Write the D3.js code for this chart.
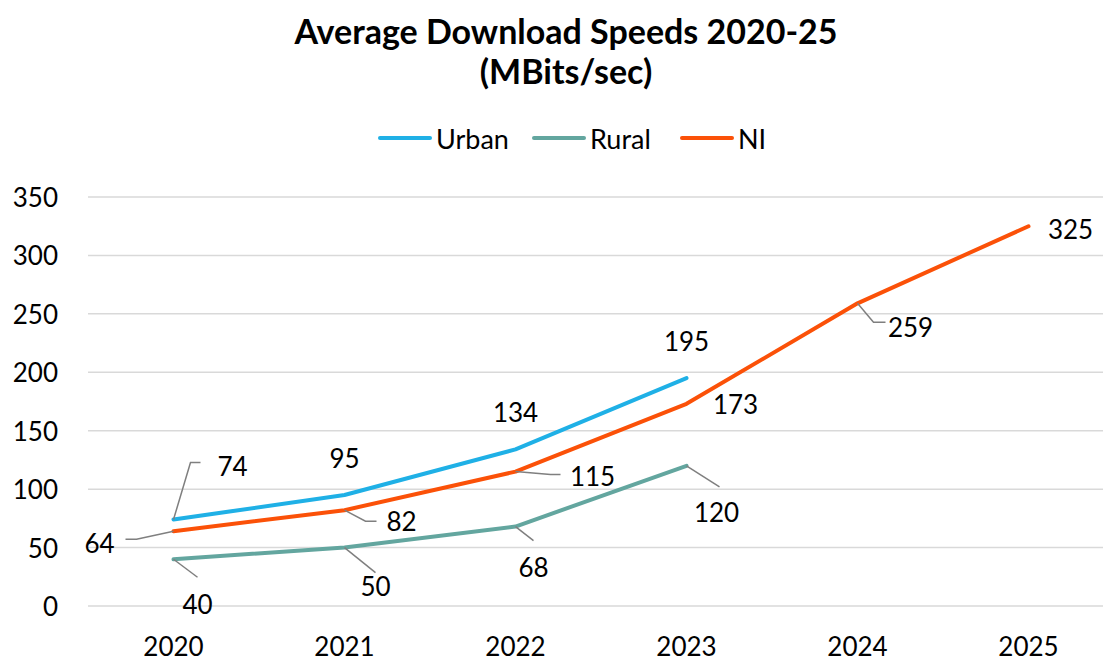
<!DOCTYPE html>
<html>
<head>
<meta charset="utf-8">
<script src="https://cdn.jsdelivr.net/npm/d3@7"></script>
<style>
  body { margin: 0; background: #fff; }
  svg { display: block; font-family: Lato, "Open Sans", sans-serif; }
</style>
</head>
<body>
<script>
// Chart data
const years = ["2020", "2021", "2022", "2023", "2024", "2025"];
const urban = [74, 95, 134, 195, null, null];
const rural = [40, 50, 68, 120, null, null];
const ni = [64, 82, 115, 173, 259, 325];
const yTicks = [0, 50, 100, 150, 200, 250, 300, 350];

const width = 1103, height = 662;

// Series styling and label placement (offsets from the point, in px)
const series = [
  { name: "Urban", values: urban, color: "#1fb0e6",
    labels: [[59, -54], [0, -37], [0, -37], [0, -37]],
    leaders: [[[17, -57], [27, -57]], null, null, null] },
  { name: "Rural", values: rural, color: "#63a69f",
    labels: [[24, 45], [31, 38], [18, 40], [30, 46]],
    leaders: [[[24, 18]], [[31, 25]], [[18, 14]], [[33, 21]]] },
  { name: "NI", values: ni, color: "#fb5108",
    labels: [[-74, 12], [57, 11], [77, 4], [49, 0], [53, 24], [42, 3]],
    leaders: [[[-37, 8], [-48, 8]], [[21, 11], [32, 11]], [[35, 3], [45, 3]],
              null, [[16, 19], [28, 19]], null] }
];

const svg = d3.select("body").append("svg")
  .attr("width", width)
  .attr("height", height);

const x = d3.scaleBand().domain(years).range([88, 1114]);
const y = d3.scaleLinear().domain([0, 350]).range([606, 197]);
const cx = d => x(d) + x.bandwidth() / 2;

// Title
const title = svg.append("text")
  .attr("x", 566).attr("text-anchor", "middle")
  .attr("font-weight", "bold").attr("font-size", 34).attr("fill", "#000");
title.append("tspan").attr("x", 566).attr("y", 44).text("Average Download Speeds 2020-25");
title.append("tspan").attr("x", 566).attr("y", 84).text("(MBits/sec)");

// Gridlines
svg.append("g").selectAll("line").data(yTicks).join("line")
  .attr("x1", 88).attr("x2", 1114)
  .attr("y1", d => y(d)).attr("y2", d => y(d))
  .attr("stroke", "#d9d9d9").attr("stroke-width", 1.5);

// Y axis labels
svg.append("g").selectAll("text").data(yTicks).join("text")
  .attr("x", 58).attr("y", d => y(d))
  .attr("text-anchor", "end").attr("dominant-baseline", "central")
  .attr("font-size", 26).attr("fill", "#000")
  .text(d => d);

// X axis labels
svg.append("g").selectAll("text").data(years).join("text")
  .attr("x", d => cx(d)).attr("y", 656)
  .attr("text-anchor", "middle")
  .attr("font-size", 26).attr("fill", "#000")
  .text(d => d);

// Legend
const legendItems = [
  { s: series[0], x: 380 },
  { s: series[1], x: 534 },
  { s: series[2], x: 682 }
];
const lg = svg.append("g");
legendItems.forEach(it => {
  lg.append("line")
    .attr("x1", it.x).attr("x2", it.x + 50)
    .attr("y1", 138).attr("y2", 138)
    .attr("stroke", it.s.color).attr("stroke-width", 4)
    .attr("stroke-linecap", "round");
  lg.append("text")
    .attr("x", it.x + 56).attr("y", 138)
    .attr("dominant-baseline", "central")
    .attr("font-size", 27).attr("fill", "#000")
    .text(it.s.name);
});

// Lines
const line = d3.line()
  .defined(d => d.v != null)
  .x(d => cx(d.year))
  .y(d => y(d.v));

series.forEach(s => {
  const pts = years.map((yr, i) => ({ year: yr, v: s.values[i] }));
  svg.append("path")
    .datum(pts)
    .attr("fill", "none")
    .attr("stroke", s.color)
    .attr("stroke-width", 4)
    .attr("stroke-linejoin", "round")
    .attr("stroke-linecap", "round")
    .attr("d", line);
});

// Leader lines and data labels
series.forEach(s => {
  s.values.forEach((v, i) => {
    if (v == null) return;
    const px = cx(years[i]), py = y(v);
    const ld = s.leaders[i];
    if (ld) {
      const path = d3.path();
      path.moveTo(px, py);
      ld.forEach(p => path.lineTo(px + p[0], py + p[1]));
      svg.append("path")
        .attr("d", path.toString())
        .attr("fill", "none")
        .attr("stroke", "#7f7f7f")
        .attr("stroke-width", 1.5);
    }
    const off = s.labels[i];
    svg.append("text")
      .attr("x", px + off[0]).attr("y", py + off[1])
      .attr("text-anchor", "middle").attr("dominant-baseline", "central")
      .attr("font-size", 26).attr("fill", "#000")
      .text(v);
  });
});
</script>
</body>
</html>
